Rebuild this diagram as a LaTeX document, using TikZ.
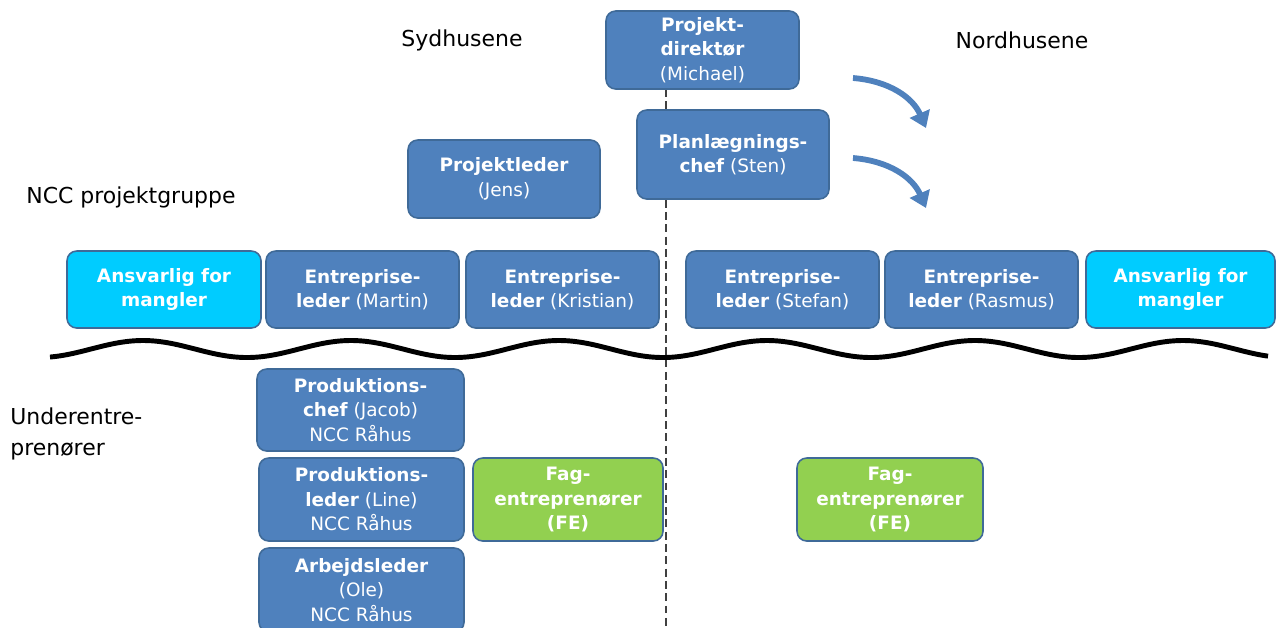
\documentclass[tikz,border=0pt]{standalone}
\usepackage{fontspec}
\setmainfont{DejaVu Sans}
\usetikzlibrary{arrows.meta}
\definecolor{boxblue}{HTML}{4F81BD}
\definecolor{boxedge}{HTML}{3F6A98}
\definecolor{boxcyan}{HTML}{00CCFF}
\definecolor{boxgreen}{HTML}{92D050}
\definecolor{dashgray}{HTML}{404040}
\tikzset{
  orgbox/.style={draw=boxedge, line width=0.9pt, fill=boxblue, rounded corners=5.5pt,
    text=white, align=center, inner sep=0pt,
    font={\fontsize{10.5}{14}\selectfont}},
  cyanbox/.style={orgbox, fill=boxcyan},
  greenbox/.style={orgbox, fill=boxgreen},
  outer/.style={font={\fontsize{12.5}{18}\selectfont}, text=black, inner sep=0pt},
  bluearrow/.style={draw=boxblue, line width=3.3pt, -{Triangle[width=12pt,length=9pt]}},
}
\begin{document}
\begin{tikzpicture}[x=0.02cm, y=-0.02cm]
\useasboundingbox (0,0) rectangle (1277,627);
\clip (0,0) rectangle (1277,627);

% dashed divider
\coordinate (dtop) at (666,89);
\coordinate (dbot) at (666,630);
\draw[dashgray, line width=0.8pt, dash pattern=on 4.5pt off 2.5pt] (dtop) -- (dbot);

% wavy separator
\draw[black, line width=2.8pt] plot[domain=50:1268, samples=240, smooth]
  (\x, {349 - 8.5*cos(1.730769*(\x-143))});

% outer labels
\node[outer] (syd) at (462,40) {Sydhusene};
\node[outer] (nord) at (1022,40) {Nordhusene};
\node[outer, anchor=west] (ncc) at (26,197) {NCC projektgruppe};
\node[outer, anchor=west, align=left] (ue) at (10,434) {Underentre-\\prenører};

% top boxes
\node[orgbox, minimum width=3.86cm, minimum height=1.56cm] (dir) at (702.5,50)
  {\textbf{Projekt-}\\\textbf{direktør}\\(Michael)};
\node[orgbox, minimum width=3.84cm, minimum height=1.78cm] (plan) at (733,154.5)
  {\textbf{Planlægnings-}\\\textbf{chef} (Sten)};
\node[orgbox, minimum width=3.84cm, minimum height=1.56cm] (pl) at (504,179)
  {\textbf{Projektleder}\\(Jens)};

% row of leaders
\node[cyanbox, minimum width=3.88cm, minimum height=1.54cm] (ans1) at (164,289.5)
  {\textbf{Ansvarlig for}\\\textbf{mangler}};
\node[orgbox, minimum width=3.86cm, minimum height=1.54cm] (e1) at (362.5,289.5)
  {\textbf{Entreprise-}\\\textbf{leder} (Martin)};
\node[orgbox, minimum width=3.86cm, minimum height=1.54cm] (e2) at (562.5,289.5)
  {\textbf{Entreprise-}\\\textbf{leder} (Kristian)};
\node[orgbox, minimum width=3.86cm, minimum height=1.54cm] (e3) at (782.5,289.5)
  {\textbf{Entreprise-}\\\textbf{leder} (Stefan)};
\node[orgbox, minimum width=3.86cm, minimum height=1.54cm] (e4) at (981.5,289.5)
  {\textbf{Entreprise-}\\\textbf{leder} (Rasmus)};
\node[cyanbox, minimum width=3.78cm, minimum height=1.54cm] (ans2) at (1180.5,289.5)
  {\textbf{Ansvarlig for}\\\textbf{mangler}};

% subcontractor level
\node[orgbox, minimum width=4.14cm, minimum height=1.64cm] (pc) at (360.5,410)
  {\textbf{Produktions-}\\\textbf{chef} (Jacob)\\NCC Råhus};
\node[orgbox, minimum width=4.10cm, minimum height=1.66cm] (plr) at (361.5,499.5)
  {\textbf{Produktions-}\\\textbf{leder} (Line)\\NCC Råhus};
\node[greenbox, minimum width=3.80cm, minimum height=1.66cm] (fe1) at (568,499.5)
  {\textbf{Fag-}\\\textbf{entreprenører}\\\textbf{(FE)}};
\node[greenbox, minimum width=3.72cm, minimum height=1.66cm] (fe2) at (890,499.5)
  {\textbf{Fag-}\\\textbf{entreprenører}\\\textbf{(FE)}};
\node[orgbox, minimum width=4.10cm, minimum height=1.68cm] (ab) at (361.5,590)
  {\textbf{Arbejdsleder}\\(Ole)\\NCC Råhus};

% curved arrows
\coordinate (a1s) at (853,78);
\coordinate (a1e) at (926,128);
\coordinate (a2s) at (853,158);
\coordinate (a2e) at (926,208);
\draw[bluearrow] (a1s) .. controls (890,81) and (913,98) .. (a1e);
\draw[bluearrow] (a2s) .. controls (890,161) and (913,178) .. (a2e);
\end{tikzpicture}
\end{document}
